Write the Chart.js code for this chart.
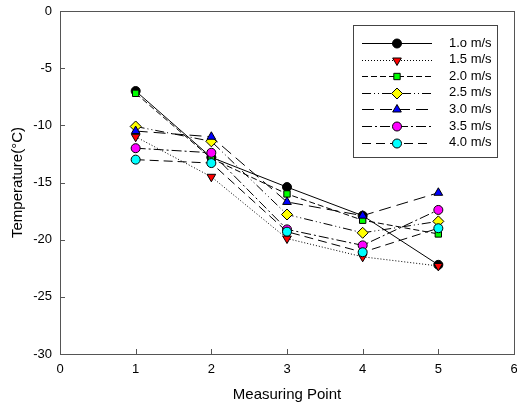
<!DOCTYPE html>
<html>
<head>
<meta charset="utf-8">
<script src="https://cdn.jsdelivr.net/npm/chart.js@4/dist/chart.umd.min.js"></script>
<style>
  html, body { margin: 0; padding: 0; background: #fff; }
  #wrap { width: 517px; height: 409px; }
</style>
</head>
<body>
<div id="wrap"><canvas id="tempChart"></canvas></div>
<script>
// measuring points and the temperature at each one, per air speed
const points = [1, 2, 3, 4, 5];
const speeds = ['1.o m/s', '1.5 m/s', '2.0 m/s', '2.5 m/s', '3.0 m/s', '3.5 m/s', '4.0 m/s'];

const temp10 = [-7.0, -12.8, -15.4, -17.9, -22.2];
const temp15 = [-11.0, -14.5, -19.9, -21.5, -22.3];
const temp20 = [-7.2, -12.9, -16.0, -18.3, -19.5];
const temp25 = [-10.1, -11.4, -17.8, -19.4, -18.4];
const temp30 = [-10.5, -11.0, -16.7, -17.9, -15.9];
const temp35 = [-12.0, -12.4, -19.1, -20.5, -17.4];
const temp40 = [-13.0, -13.3, -19.3, -21.1, -19.0];

const xTicks = [0, 1, 2, 3, 4, 5, 6];
const yTicks = [-30, -25, -20, -15, -10, -5, 0];

const series = [temp10, temp15, temp20, temp25, temp30, temp35, temp40];
const fills = ['#000000', '#ff0000', '#00ff00', '#ffff00', '#0000ff', '#ff00ff', '#00ffff'];
const shapes = ['circle', 'triangle', 'rect', 'rectRot', 'triangle', 'circle', 'circle'];
const turns = [0, 180, 0, 0, 0, 0, 0];
const sizes = [4.5, 5, 4.5, 5.5, 5, 4.5, 4.5];
const dashes = [[], [1, 2], [6, 3], [9, 3, 1, 3, 1, 3], [12, 6], [10, 3, 2, 3], [9, 5]];

const datasets = series.map((vals, i) => ({
  label: speeds[i],
  data: vals.map((v, j) => ({ x: points[j], y: v })),
  borderColor: '#000000',
  borderWidth: 1,
  borderDash: dashes[i],
  backgroundColor: fills[i],
  pointStyle: shapes[i],
  rotation: turns[i],
  pointRadius: sizes[i],
  pointBorderColor: '#000000',
  pointBorderWidth: 1,
  pointBackgroundColor: fills[i],
  tension: 0,
  order: series.length - i
}));

// frame around the plot, inward tick marks, boxed legend
const framePlugin = {
  id: 'frame',
  afterDraw(chart) {
    const { ctx, chartArea: a, scales } = chart;
    ctx.save();
    ctx.strokeStyle = '#555555';
    ctx.lineWidth = 1;
    ctx.setLineDash([]);
    ctx.strokeRect(a.left + 0.5, a.top + 0.5, a.right - a.left, a.bottom - a.top);
    ctx.beginPath();
    xTicks.slice(1, -1).forEach(v => {
      const px = Math.round(scales.x.getPixelForValue(v)) + 0.5;
      ctx.moveTo(px, a.bottom);
      ctx.lineTo(px, a.bottom - 5);
    });
    yTicks.slice(1, -1).forEach(v => {
      const py = Math.round(scales.y.getPixelForValue(v)) + 0.5;
      ctx.moveTo(a.left, py);
      ctx.lineTo(a.left + 5, py);
    });
    ctx.stroke();

    // legend
    const bx = 353, by = 25, bw = 144, bh = 132;
    ctx.fillStyle = '#ffffff';
    ctx.fillRect(bx, by, bw, bh);
    ctx.strokeStyle = '#444444';
    ctx.strokeRect(bx + 0.5, by + 0.5, bw, bh);
    ctx.font = '13px "Liberation Sans", Arial, sans-serif';
    ctx.textBaseline = 'middle';
    ctx.textAlign = 'left';
    chart.data.datasets.forEach((ds, i) => {
      const y = by + 18 + i * 16.6;
      ctx.strokeStyle = '#000000';
      ctx.setLineDash(ds.borderDash);
      ctx.beginPath();
      ctx.moveTo(362, Math.round(y) + 0.5);
      ctx.lineTo(432, Math.round(y) + 0.5);
      ctx.stroke();
      ctx.setLineDash([]);
      ctx.fillStyle = ds.pointBackgroundColor;
      ctx.strokeStyle = '#000000';
      Chart.helpers.drawPoint(ctx, {
        pointStyle: ds.pointStyle,
        rotation: ds.rotation,
        radius: ds.pointRadius,
        borderWidth: 1
      }, 397, Math.round(y) + 0.5);
      ctx.fillStyle = '#000000';
      ctx.fillText(ds.label, 449, y);
    });
    ctx.restore();
  }
};

// fixed axis sizes, no extra room for label overhang
function fitX(s) {
  s.height = 55;
  s.paddingLeft = 0;
  s.paddingRight = 0;
}
function fitY(s) {
  s.width = 60;
  s.paddingTop = 0;
  s.paddingBottom = 0;
}

new Chart(document.getElementById('tempChart'), {
  type: 'line',
  data: { datasets: datasets },
  options: {
    responsive: true,
    maintainAspectRatio: false,
    animation: false,
    layout: { autoPadding: false, padding: { left: 0, top: 11, right: 3, bottom: 0 } },
    plugins: {
      legend: { display: false },
      tooltip: { enabled: false }
    },
    scales: {
      x: {
        type: 'linear',
        min: 0,
        max: 6,
        afterBuildTicks: s => { s.ticks = xTicks.map(v => ({ value: v })); },
        afterFit: fitX,
        grid: { display: false, drawTicks: false },
        border: { display: false },
        ticks: {
          color: '#000000',
          padding: 8,
          font: { family: 'Liberation Sans', size: 13 }
        },
        title: {
          display: true,
          text: 'Measuring Point',
          color: '#000000',
          padding: { top: 0, bottom: 5 },
          font: { family: 'Liberation Sans', size: 15 }
        }
      },
      y: {
        min: -30,
        max: 0,
        afterBuildTicks: s => { s.ticks = yTicks.map(v => ({ value: v })); },
        afterFit: fitY,
        grid: { display: false, drawTicks: false },
        border: { display: false },
        ticks: {
          color: '#000000',
          padding: 8,
          font: { family: 'Liberation Sans', size: 13 }
        },
        title: {
          display: true,
          text: 'Temperature(°C)',
          color: '#000000',
          padding: { top: 9, bottom: 0 },
          font: { family: 'Liberation Sans', size: 15 }
        }
      }
    }
  },
  plugins: [framePlugin]
});
</script>
</body>
</html>
